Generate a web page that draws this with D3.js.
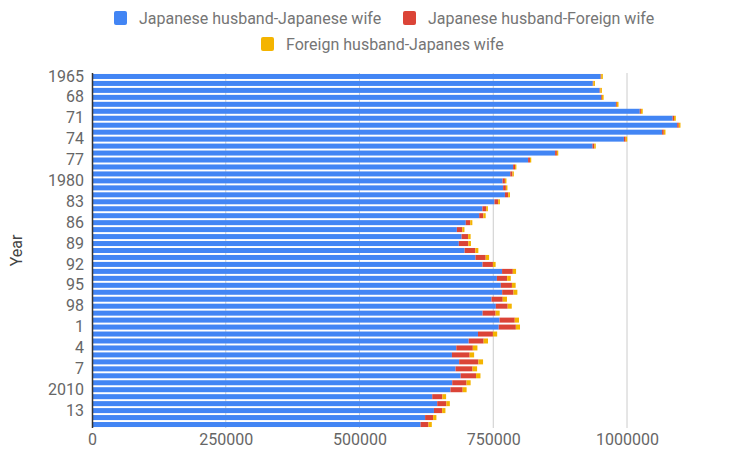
<!DOCTYPE html>
<html>
<head>
<meta charset="utf-8">
<script src="https://cdn.jsdelivr.net/npm/d3@7"></script>
<style>
  body { margin: 0; background: #fff; }
  text { font-family: Roboto, "Noto Sans", sans-serif; }
</style>
</head>
<body>
<svg id="chart" width="753" height="455"></svg>
<script>
const years = d3.range(1965, 2016);
// total marriages per year
const totals = [954852, 940120, 953096, 956312, 984142, 1029405, 1091229, 1099984, 1071923, 1000455,
  941628, 871543, 821029, 793257, 788505, 774702, 776531, 781252, 762552, 739991,
  735850, 710962, 696173, 707716, 708316, 722138, 742264, 754441, 792658, 782738,
  791888, 795080, 775651, 784595, 762028, 798138, 799999, 757331, 740191, 720417,
  714265, 730971, 719822, 726106, 707734, 700214, 661895, 668869, 660613, 643749, 635156];
const jpHusbandForeignWife = [1067, 1198, 1340, 1466, 1669, 2108, 2502, 2946, 3179, 3238,
  3222, 3339, 3487, 3630, 4046, 4386, 5141, 6055, 6872, 6940,
  7738, 8255, 10176, 12267, 17800, 20026, 19096, 19423, 20092, 19216,
  20787, 21162, 20902, 22159, 24272, 28326, 31972, 27957, 27881, 30907,
  33116, 35993, 31807, 28720, 26747, 22843, 19022, 17198, 15442, 14998, 14809];
const foreignHusbandJpWife = [3089, 2992, 2897, 3063, 3146, 3438, 3380, 3207, 3168, 2964,
  2823, 2590, 2410, 2505, 2634, 2875, 2916, 3351, 3383, 3273,
  4443, 4015, 4035, 4604, 4890, 5600, 6403, 5019, 6081, 6712,
  6940, 7210, 7914, 7629, 7628, 7937, 7755, 7922, 8158, 8604,
  8365, 8708, 8465, 8249, 7646, 7364, 6912, 6459, 6046, 6132, 6167];
const jpJp = totals.map((t, i) => t - jpHusbandForeignWife[i] - foreignHusbandJpWife[i]);

const tickYears = [1965, 1968, 1971, 1974, 1977, 1980, 1983, 1986, 1989, 1992, 1995, 1998, 2001, 2004, 2007, 2010, 2013];
const tickLabels = ["1965", "68", "71", "74", "77", "1980", "83", "86", "89", "92", "95", "98", "1", "4", "7", "2010", "13"];
const xTicks = [0, 250000, 500000, 750000, 1000000];

const seriesNames = ["Japanese husband-Japanese wife", "Japanese husband-Foreign wife", "Foreign husband-Japanes wife"];
const seriesKeys = ["jj", "jf", "fj"];
const colors = ["#4285f4", "#db4437", "#f4b400"];

const rows = years.map((y, i) => ({ year: y, jj: jpJp[i], jf: jpHusbandForeignWife[i], fj: foreignHusbandJpWife[i] }));

const svg = d3.select("#chart");
const plotLeft = 92, plotTop = 73, plotBottom = 428;

const x = d3.scaleLinear().domain([0, 1000000]).range([plotLeft, 627]);
const y = d3.scaleBand().domain(years).range([plotTop, plotBottom]).paddingInner(0.28).paddingOuter(0.14);

// gridlines
svg.append("g")
  .selectAll("line")
  .data(xTicks.slice(1))
  .enter()
  .append("line")
  .attr("x1", d => x(d)).attr("x2", d => x(d))
  .attr("y1", plotTop).attr("y2", plotBottom)
  .attr("stroke", "#cccccc")
  .attr("stroke-width", 1);

// stacked bars
const stack = d3.stack().keys(seriesKeys)(rows);
svg.append("g")
  .selectAll("g")
  .data(stack)
  .enter()
  .append("g")
  .attr("fill", (d, i) => colors[i])
  .selectAll("rect")
  .data(d => d)
  .enter()
  .append("rect")
  .attr("x", d => x(d[0]))
  .attr("y", d => y(d.data.year))
  .attr("width", d => x(d[1]) - x(d[0]))
  .attr("height", y.bandwidth());

// baseline
svg.append("line")
  .attr("x1", plotLeft + 0.5).attr("x2", plotLeft + 0.5)
  .attr("y1", plotTop).attr("y2", plotBottom)
  .attr("stroke", "#333")
  .attr("stroke-width", 1.5);

// y axis labels
const yAxis = d3.axisLeft(y)
  .tickValues(tickYears)
  .tickSize(0)
  .tickPadding(8)
  .tickFormat(d => tickLabels[tickYears.indexOf(d)]);
const yg = svg.append("g").attr("transform", `translate(${plotLeft},0)`).call(yAxis);
yg.select(".domain").remove();
yg.selectAll("text").attr("font-size", 16).attr("fill", "#666").attr("font-family", "Roboto, sans-serif");

// x axis labels
const xAxis = d3.axisBottom(x).tickValues(xTicks).tickSize(0).tickPadding(0).tickFormat(d => d);
const xg = svg.append("g").attr("transform", `translate(0,${plotBottom + 3})`).call(xAxis);
xg.select(".domain").remove();
xg.selectAll("text").attr("font-size", 16).attr("fill", "#666").attr("font-family", "Roboto, sans-serif").attr("dy", "0.85em");

// axis title
svg.append("text")
  .attr("transform", `translate(22,${(plotTop + plotBottom) / 2}) rotate(-90)`)
  .attr("text-anchor", "middle")
  .attr("font-size", 16)
  .attr("fill", "#444")
  .text("Year");

// legend
const legendItems = [
  { i: 0, x: 114, y: 11 },
  { i: 1, x: 403, y: 11 },
  { i: 2, x: 261, y: 37 }
];
const lg = svg.append("g").selectAll("g").data(legendItems).enter().append("g")
  .attr("transform", d => `translate(${d.x},${d.y})`);
lg.append("rect").attr("width", 13).attr("height", 14).attr("rx", 2)
  .attr("fill", d => colors[d.i]);
lg.append("text").attr("x", 25).attr("y", 7).attr("dy", "0.35em")
  .attr("font-size", 16).attr("fill", "#757575")
  .text(d => seriesNames[d.i]);
</script>
</body>
</html>
